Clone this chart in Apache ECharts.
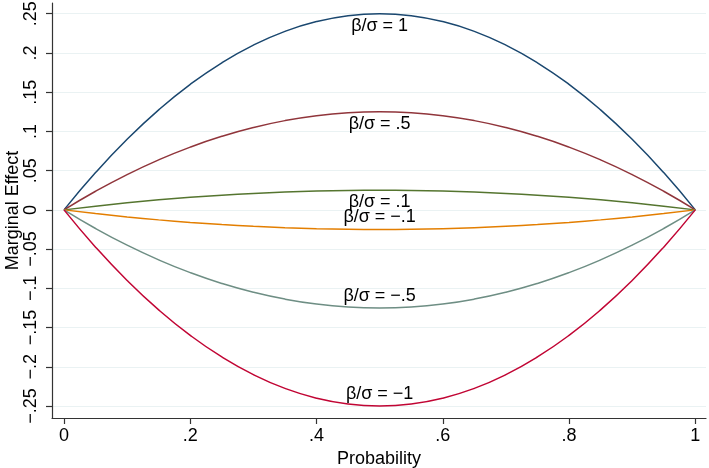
<!DOCTYPE html>
<html><head><meta charset="utf-8">
<script src="https://cdn.jsdelivr.net/npm/echarts@6/dist/echarts.min.js"></script>
<style>html,body{margin:0;padding:0;background:#fff}#c{width:709px;height:468px}</style>
</head><body><div id="c"></div>
<script>
const probability = [0,0.05,0.1,0.15,0.2,0.25,0.3,0.35,0.4,0.45,0.5,0.55,0.6,0.65,0.7,0.75,0.8,0.85,0.9,0.95,1];
const seriesNames = ['β/σ = 1','β/σ = .5','β/σ = .1','β/σ = \u2212.1','β/σ = \u2212.5','β/σ = \u22121'];
const effectPos1  = [0,0.0475,0.09,0.1275,0.16,0.1875,0.21,0.2275,0.24,0.2475,0.25,0.2475,0.24,0.2275,0.21,0.1875,0.16,0.1275,0.09,0.0475,0];
const effectPos05 = [0,0.02375,0.045,0.06375,0.08,0.09375,0.105,0.11375,0.12,0.12375,0.125,0.12375,0.12,0.11375,0.105,0.09375,0.08,0.06375,0.045,0.02375,0];
const effectPos01 = [0,0.00475,0.009,0.01275,0.016,0.01875,0.021,0.02275,0.024,0.02475,0.025,0.02475,0.024,0.02275,0.021,0.01875,0.016,0.01275,0.009,0.00475,0];
const effectNeg01 = [0,-0.00475,-0.009,-0.01275,-0.016,-0.01875,-0.021,-0.02275,-0.024,-0.02475,-0.025,-0.02475,-0.024,-0.02275,-0.021,-0.01875,-0.016,-0.01275,-0.009,-0.00475,0];
const effectNeg05 = [0,-0.02375,-0.045,-0.06375,-0.08,-0.09375,-0.105,-0.11375,-0.12,-0.12375,-0.125,-0.12375,-0.12,-0.11375,-0.105,-0.09375,-0.08,-0.06375,-0.045,-0.02375,0];
const effectNeg1  = [0,-0.0475,-0.09,-0.1275,-0.16,-0.1875,-0.21,-0.2275,-0.24,-0.2475,-0.25,-0.2475,-0.24,-0.2275,-0.21,-0.1875,-0.16,-0.1275,-0.09,-0.0475,0];
const xTicks = [0,0.2,0.4,0.6,0.8,1];
const yTicks = [-0.25,-0.2,-0.15,-0.1,-0.05,0,0.05,0.1,0.15,0.2,0.25];

const allSeries = [effectPos1,effectPos05,effectPos01,effectNeg01,effectNeg05,effectNeg1];
const colors = ['#1a476f','#90353b','#55752f','#e37e00','#6e8e84','#c10534'];
const FONT = "'Liberation Sans', Arial, Helvetica, sans-serif";
function fmt(v){
  if (Math.abs(v) < 1e-9) return '0';
  let s = String(Math.round(Math.abs(v)*100)/100).replace(/^0\./,'.');
  return (v<0?'\u2212':'') + s;
}
const chart = echarts.init(document.getElementById('c'), null, {renderer:'canvas'});
chart.setOption({
  animation:false,
  backgroundColor:'#fff',
  grid:{left:52,right:3,top:3,bottom:50,containLabel:false,outerBoundsMode:'none'},
  xAxis:{type:'value',min:-0.019,max:1.017,
    name:'Probability',nameLocation:'middle',nameGap:32,nameMoveOverlap:false,
    nameTextStyle:{fontFamily:FONT,fontSize:18,color:'#000'},
    axisLine:{show:true,onZero:false,lineStyle:{color:'#333',width:1.2}},
    axisTick:{show:true,length:6,customValues:xTicks,lineStyle:{color:'#333',width:1.2}},
    axisLabel:{customValues:xTicks,formatter:fmt,fontFamily:FONT,fontSize:18,color:'#000',margin:9},
    splitLine:{show:false}},
  yAxis:{type:'value',min:-0.2653,max:0.2637,
    name:'Marginal Effect',nameLocation:'middle',nameGap:30,nameMoveOverlap:false,
    nameTextStyle:{fontFamily:FONT,fontSize:18,color:'#000'},
    axisLine:{show:true,onZero:false,lineStyle:{color:'#333',width:1.2}},
    axisTick:{show:true,length:6,customValues:yTicks,lineStyle:{color:'#333',width:1.2}},
    axisLabel:{customValues:yTicks,formatter:fmt,rotate:90,fontFamily:FONT,fontSize:18,color:'#000',margin:12},
    splitLine:{show:true,lineStyle:{color:'#eaf2f3',width:1.2}}},
  series: allSeries.map((vals,i)=>{
    const mid = vals[10];
    return {
      type:'line', name:seriesNames[i],
      data: probability.map((p,j)=>[p,vals[j]]),
      smooth:true, showSymbol:false, symbol:'none',
      lineStyle:{color:colors[i],width:1.5},
      markPoint:{symbol:'circle',symbolSize:0,silent:true,
        data:[{coord:[0.5,mid]}],
        label:{show:true,position:'inside',formatter:seriesNames[i],
          offset:[0, mid>0?12:-12],fontFamily:FONT,fontSize:18,color:'#000'}}
    };
  })
});
</script></body></html>
